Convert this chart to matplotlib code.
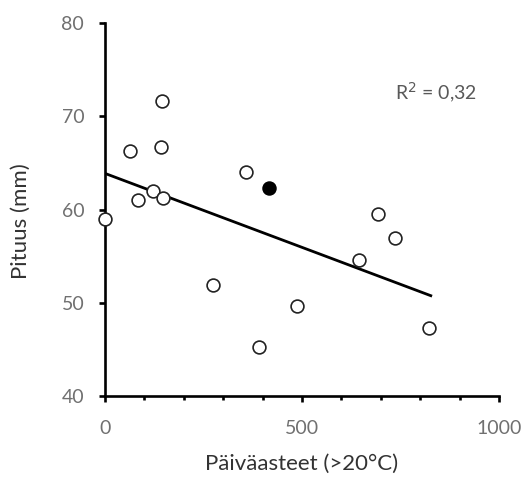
import numpy as np
import matplotlib
matplotlib.use("Agg")
import matplotlib.pyplot as plt
from matplotlib.ticker import MultipleLocator

# Degree days above 20 °C and mean length (mm)
degree_days = [0, 63, 84, 122, 145, 142, 147, 274, 358, 391, 487, 645, 693, 736, 822]
length_mm = [59.0, 66.3, 61.0, 62.0, 71.6, 66.7, 61.25, 51.9, 64.0, 45.3, 49.7, 54.6, 59.5, 56.9, 47.3]

# Separately marked observation (filled)
extra_dd = [416]
extra_len = [62.3]

x_ticks = [0, 500, 1000]
y_ticks = [40, 50, 60, 70, 80]
r2_label = "R$^2$ = 0,32"

plt.rcParams['font.family'] = ['Lato', 'DejaVu Sans']

fig = plt.figure(figsize=(5.24, 4.8), dpi=100)
ax = fig.add_axes([0.2004, 0.175, 0.752, 0.777])

x = np.array(degree_days, dtype=float)
y = np.array(length_mm, dtype=float)
slope, intercept = np.polyfit(x, y, 1)
xl = np.array([0, x.max() + 8])
ax.plot(xl, intercept + slope * xl, color='black', lw=2.0, zorder=2, solid_capstyle='butt')

ax.scatter(x, y, s=85, facecolors='white', edgecolors='#222222', linewidths=1.2, zorder=3, clip_on=False)
ax.scatter(extra_dd, extra_len, s=85, facecolors='black', edgecolors='black', linewidths=1.2, zorder=3)

ax.set_xlim(0, 1000)
ax.set_ylim(40, 80)
ax.set_xticks(x_ticks)
ax.set_yticks(y_ticks)
ax.xaxis.set_minor_locator(MultipleLocator(100))

for s in ['top', 'right']:
    ax.spines[s].set_visible(False)
for s in ['left', 'bottom']:
    ax.spines[s].set_linewidth(1.9)
    ax.spines[s].set_color('black')

ax.tick_params(axis='both', which='major', direction='out', length=4, width=1.9,
               labelsize=14, labelcolor='#707070', color='black')
ax.tick_params(axis='x', which='major', pad=13)
ax.tick_params(axis='y', which='major', pad=11)
ax.tick_params(axis='x', which='minor', direction='out', length=3, width=1.9, color='black')

ax.set_xlabel("Päiväasteet (>20°C)", fontsize=16, color='#333333')
ax.xaxis.set_label_coords(0.5, -0.155)
ax.set_ylabel("Pituus (mm)", fontsize=16, color='#333333')
ax.yaxis.set_label_coords(-0.188, 0.47)

ax.text(736, 72.5, r2_label, fontsize=14, color='#595959', ha='left', va='center')

fig.savefig("out.png", dpi=100)
